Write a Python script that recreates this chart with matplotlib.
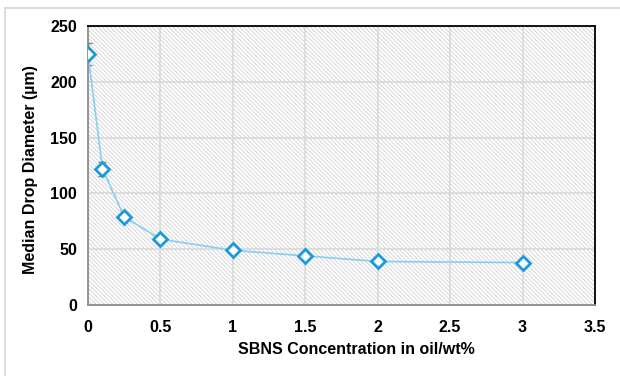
import matplotlib
matplotlib.use("Agg")
import matplotlib.pyplot as plt
from matplotlib.patches import Rectangle
from matplotlib.lines import Line2D

# SBNS concentration (wt% in oil) vs median drop diameter (µm)
concentration = [0, 0.1, 0.25, 0.5, 1, 1.5, 2, 3]
median_diameter = [225, 122, 79, 59, 49, 44, 39, 38]
diameter_err = [10, 6, 0, 0, 0, 0, 0, 0]

x_ticks = [0, 0.5, 1, 1.5, 2, 2.5, 3, 3.5]
x_tick_labels = ["0", "0.5", "1", "1.5", "2", "2.5", "3", "3.5"]
y_ticks = [0, 50, 100, 150, 200, 250]
y_tick_labels = ["0", "50", "100", "150", "200", "250"]

plt.rcParams["font.family"] = ["Liberation Sans", "DejaVu Sans"]
plt.rcParams["font.weight"] = "bold"
plt.rcParams["hatch.linewidth"] = 0.6

W, H = 620, 376
fig = plt.figure(figsize=(W / 100, H / 100), dpi=100)
fig.patch.set_facecolor("white")

# light frame around the figure (top and left edges)
frame_c = "#d9d9d9"
fig.add_artist(Line2D([5 / W, 5 / W], [0, 1 - 8 / H], color=frame_c, lw=1.3,
                      transform=fig.transFigure))
fig.add_artist(Line2D([5 / W, 1], [1 - 8 / H, 1 - 8 / H], color=frame_c, lw=1.3,
                      transform=fig.transFigure))

left, right, top, bottom = 88, 595, 26, 305
ax = fig.add_axes([left / W, 1 - bottom / H, (right - left) / W, (bottom - top) / H])
ax.set_facecolor("white")

# hatched plot area
ax.add_patch(Rectangle((0, 0), 1, 1, transform=ax.transAxes, facecolor="white",
                       edgecolor="#d0d0d0", hatch="\\" * 8, lw=0, zorder=0.1))

ax.set_xlim(0, 3.5)
ax.set_ylim(0, 250)
ax.set_xticks(x_ticks)
ax.set_xticklabels(x_tick_labels)
ax.set_yticks(y_ticks)
ax.set_yticklabels(y_tick_labels)
ax.tick_params(length=0, labelsize=11.5)
ax.tick_params(axis="y", pad=8)
ax.tick_params(axis="x", pad=11)

ax.set_axisbelow(True)
ax.grid(True, color="#d9d9d9", lw=1.2)

for s in ("top", "right"):
    ax.spines[s].set_color("black")
    ax.spines[s].set_linewidth(1.3)
for s in ("left", "bottom"):
    ax.spines[s].set_color("#8c8c8c")
    ax.spines[s].set_linewidth(1.3)

ax.errorbar(concentration, median_diameter, yerr=diameter_err, fmt="none",
            ecolor="#7f7f7f", elinewidth=1.0, capsize=3, capthick=1.0, zorder=3)
ax.plot(concentration, median_diameter, color="#86d0ee", lw=1.2, zorder=4,
        marker="D", markersize=7, markerfacecolor="white",
        markeredgecolor="#1a9ad7", markeredgewidth=2.0)

ax.set_xlabel("SBNS Concentration in oil/wt%", fontsize=11.5, fontweight="bold")
ax.xaxis.label.set_verticalalignment("center")
ax.xaxis.set_label_coords((356 - left) / (right - left), -(349 - bottom) / (bottom - top))
ax.set_ylabel("Median Drop Diameter (µm)", fontsize=11.5, fontweight="bold")
ax.yaxis.label.set_verticalalignment("center")
ax.yaxis.set_label_coords(-(left - 31) / (right - left), (bottom - 170) / (bottom - top))

fig.savefig("out.png", dpi=100)
